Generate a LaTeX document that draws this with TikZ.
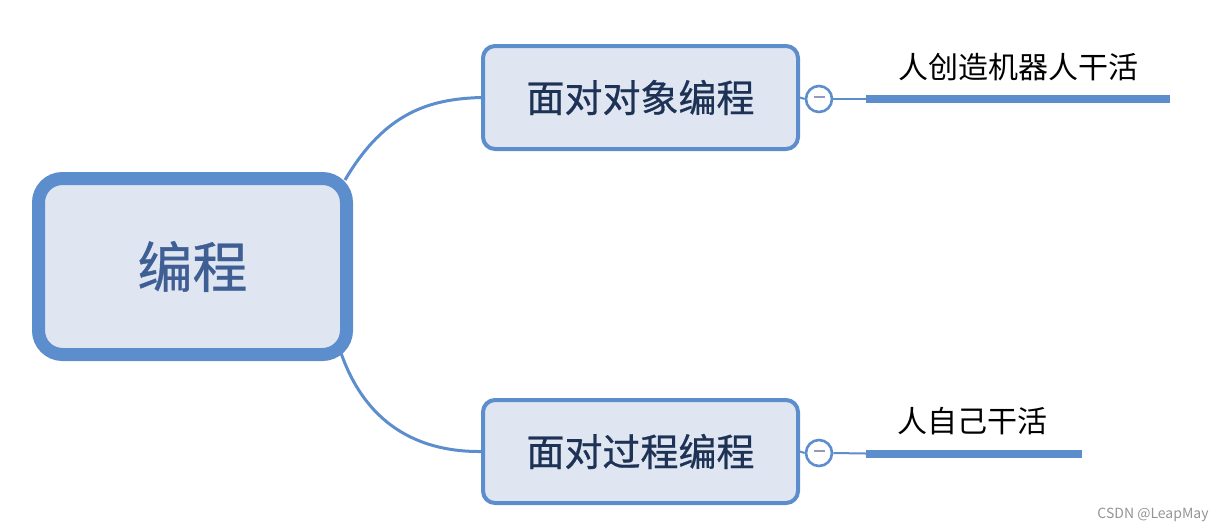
\documentclass[tikz,border=0pt]{standalone}
\usepackage{fontspec}
\newfontfamily\cjk{Noto Sans CJK SC}
\newfontfamily\cjkmed[FakeBold=0.7]{Noto Sans CJK SC}
\definecolor{mapblue}{HTML}{5C8DCC}
\definecolor{mapfill}{HTML}{DFE6F2}
\definecolor{roottext}{HTML}{3F5F94}
\definecolor{subtext}{HTML}{1E3255}
\definecolor{minusgray}{HTML}{8F9AC0}
\usetikzlibrary{backgrounds}
\begin{document}
\begin{tikzpicture}[
    x=0.5pt, y=-0.5pt,
    rootbox/.style={rectangle, draw=mapblue, fill=mapfill,
                  line width=6.5pt, rounded corners=12pt,
                  minimum width=154pt, minimum height=88pt,
                  text centered, text=roottext,
                  font=\cjkmed\fontsize{27.5}{30}\selectfont},
    subbox/.style={rectangle, draw=mapblue, fill=mapfill,
                  line width=2pt, rounded corners=6pt,
                  minimum width=157.5pt, minimum height=51.5pt,
                  text centered, text=subtext,
                  font=\cjkmed\fontsize{19}{22}\selectfont},
    fold/.style={circle, draw=mapblue, fill=white, line width=1.3pt,
                  minimum size=13pt, inner sep=0pt,
                  font=\small},
    leaf/.style={inner sep=0pt, text=black,
                  font=\cjk\fontsize{15}{18}\selectfont},
    link/.style={draw=mapblue, line width=1.5pt},
    thin link/.style={draw=mapblue, line width=1pt},
    bar/.style={draw=mapblue, line width=4pt}
]
    \useasboundingbox (0,0) rectangle (1219,531);

    % Hoofdonderwerp
    \node[rootbox] (root) at (192.5, 266.5) {编程};

    % Subonderwerpen
    \node[subbox] (oop) at (640.5, 97.5) {面对对象编程};
    \node[subbox] (pop) at (640.5, 451.5) {面对过程编程};

    % Inklapknoppen
    \node[fold] (foldoop) at (819, 99)
        {\textcolor{minusgray}{\rule[2pt]{5.5pt}{1.3pt}}};
    \node[fold] (foldpop) at (819, 453)
        {\textcolor{minusgray}{\rule[2pt]{5.5pt}{1.3pt}}};

    % Bladeren
    \node[leaf] (leafoop) at (1018.5, 67) {人创造机器人干活};
    \node[leaf] (leafpop) at (972, 421) {人自己干活};
    \coordinate (baroopA) at (866, 99);
    \coordinate (baroopB) at (1170, 99);
    \coordinate (barpopA) at (866, 453.5);
    \coordinate (barpopB) at (1082, 453.5);

    % Verbindingen
    \begin{scope}[on background layer]
        \draw[link] ([shift={(-8,8)}]root.north east)
            .. controls (385, 112) and (430, 99) .. (oop.west);
        \draw[link] ([shift={(-12,-8)}]root.south east)
            .. controls (368, 430) and (425, 452) .. (pop.west);
    \end{scope}
    \draw[thin link] (oop.east) -- (foldoop.west);
    \draw[thin link] (pop.east) -- (foldpop.west);
    \draw[thin link] (foldoop.east) -- (baroopA);
    \draw[thin link] (foldpop.east) -- (barpopA);
    \draw[bar] (baroopA) -- (baroopB);
    \draw[bar] (barpopA) -- (barpopB);

    % Watermerk
    \node[text=black!42, font=\cjk\fontsize{7}{8}\selectfont]
        (mark) at (1153, 515) {CSDN @LeapMay};

\end{tikzpicture}
\end{document}
